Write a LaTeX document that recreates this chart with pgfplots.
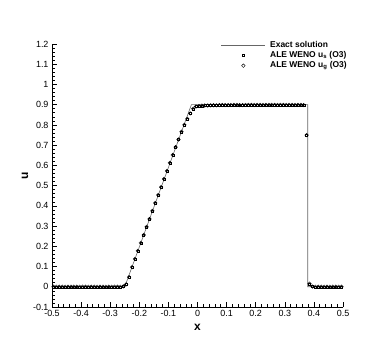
\documentclass[border=0pt]{standalone}
\usepackage{fontspec}
\setmainfont{Liberation Sans}
\usepackage{pgfplots}
\usepackage{pgfplotstable}
\pgfplotsset{compat=1.18}

% cell averages of the numerical solution (u_s and u_g coincide)
\pgfplotstableread{
x us ug
-0.495 0 0
-0.485 0 0
-0.475 0 0
-0.465 0 0
-0.455 0 0
-0.445 0 0
-0.435 0 0
-0.425 0 0
-0.415 0 0
-0.405 0 0
-0.395 0 0
-0.385 0 0
-0.375 0 0
-0.365 0 0
-0.355 0 0
-0.345 0 0
-0.335 0 0
-0.325 0 0
-0.315 0 0
-0.305 0 0
-0.295 0 0
-0.285 0 0
-0.275 0 0
-0.265 0 0
-0.255 0.002 0.002
-0.245 0.012 0.012
-0.235 0.048 0.048
-0.225 0.097 0.097
-0.215 0.137 0.137
-0.205 0.177 0.177
-0.195 0.217 0.217
-0.185 0.256 0.256
-0.175 0.296 0.296
-0.165 0.335 0.335
-0.155 0.375 0.375
-0.145 0.414 0.414
-0.135 0.454 0.454
-0.125 0.493 0.493
-0.115 0.533 0.533
-0.105 0.572 0.572
-0.095 0.612 0.612
-0.085 0.651 0.651
-0.075 0.690 0.690
-0.065 0.728 0.728
-0.055 0.766 0.766
-0.045 0.800 0.800
-0.035 0.830 0.830
-0.025 0.857 0.857
-0.015 0.880 0.880
-0.005 0.891 0.891
0.005 0.894 0.894
0.015 0.895 0.895
0.025 0.896 0.896
0.035 0.896 0.896
0.045 0.897 0.897
0.055 0.897 0.897
0.065 0.897 0.897
0.075 0.898 0.898
0.085 0.898 0.898
0.095 0.898 0.898
0.105 0.898 0.898
0.115 0.898 0.898
0.125 0.899 0.899
0.135 0.899 0.899
0.145 0.898 0.898
0.155 0.898 0.898
0.165 0.899 0.899
0.175 0.899 0.899
0.185 0.899 0.899
0.195 0.899 0.899
0.205 0.899 0.899
0.215 0.899 0.899
0.225 0.899 0.899
0.235 0.899 0.899
0.245 0.899 0.899
0.255 0.899 0.899
0.265 0.899 0.899
0.275 0.899 0.899
0.285 0.899 0.899
0.295 0.899 0.899
0.305 0.899 0.899
0.315 0.899 0.899
0.325 0.899 0.899
0.335 0.899 0.899
0.345 0.899 0.899
0.355 0.899 0.899
0.365 0.898 0.898
0.375 0.750 0.750
0.385 0.015 0.015
0.395 0.001 0.001
0.405 0 0
0.415 0 0
0.425 0 0
0.435 0 0
0.445 0 0
0.455 0 0
0.465 0 0
0.475 0 0
0.485 0 0
0.495 0 0
}\weno

\begin{document}
\begin{tikzpicture}
\begin{axis}[
  name=ax,
  scale only axis,
  width=291bp, height=263bp,
  xmin=-0.5, xmax=0.5,
  ymin=-0.1, ymax=1.2,
  axis lines=left,
  axis line style={-, line width=0.9pt},
  xtick={-0.5,-0.4,-0.3,-0.2,-0.1,0,0.1,0.2,0.3,0.4,0.5},
  ytick={-0.1,0,0.1,0.2,0.3,0.4,0.5,0.6,0.7,0.8,0.9,1,1.1,1.2},
  minor tick num=4,
  tick align=inside,
  major tick length=5bp,
  minor tick length=3bp,
  tick style={black, line width=0.6pt},
  /pgf/number format/assume math mode=true,
  tick label style={font=\fontsize{9}{10}\selectfont},
  xlabel={x}, ylabel={u},
  label style={font=\bfseries\fontsize{12}{13}\selectfont},
  ylabel style={yshift=-2bp},
  legend cell align=left,
  legend style={at={(rel axis cs:0.57,1.025)}, anchor=north west,
    draw=none, fill=none, row sep=-1.5pt,
    nodes={inner xsep=4.5pt},
    font=\bfseries\fontsize{8.5}{10}\selectfont},
  legend image code/.code={
    \draw[mark repeat=2,mark phase=2,#1]
      plot coordinates {(0bp,0bp) (22bp,0bp) (44bp,0bp)};
  },
]
\addplot[black!60, line width=0.6pt] coordinates {
  (-0.5,0) (-0.25,0) (-0.021,0.9) (0.379,0.9) (0.379,0) (0.5,0)};
\addlegendentry{Exact solution}
\addplot[only marks, mark=square, mark size=1.0pt,
  mark options={black, line width=0.4pt}] table[x=x, y=us] {\weno};
\addlegendentry{ALE WENO u\textsubscript{s} (O3)}
\addplot[only marks, mark=o, mark size=1.8pt,
  mark options={black, line width=0.45pt}] table[x=x, y=ug] {\weno};
\addlegendentry{ALE WENO u\textsubscript{g} (O3)}
\end{axis}
\pgfresetboundingbox
\path[use as bounding box] ([shift={(-52bp,-40bp)}]ax.south west)
  rectangle ([shift={(47bp,44bp)}]ax.north east);
\end{tikzpicture}
\end{document}
